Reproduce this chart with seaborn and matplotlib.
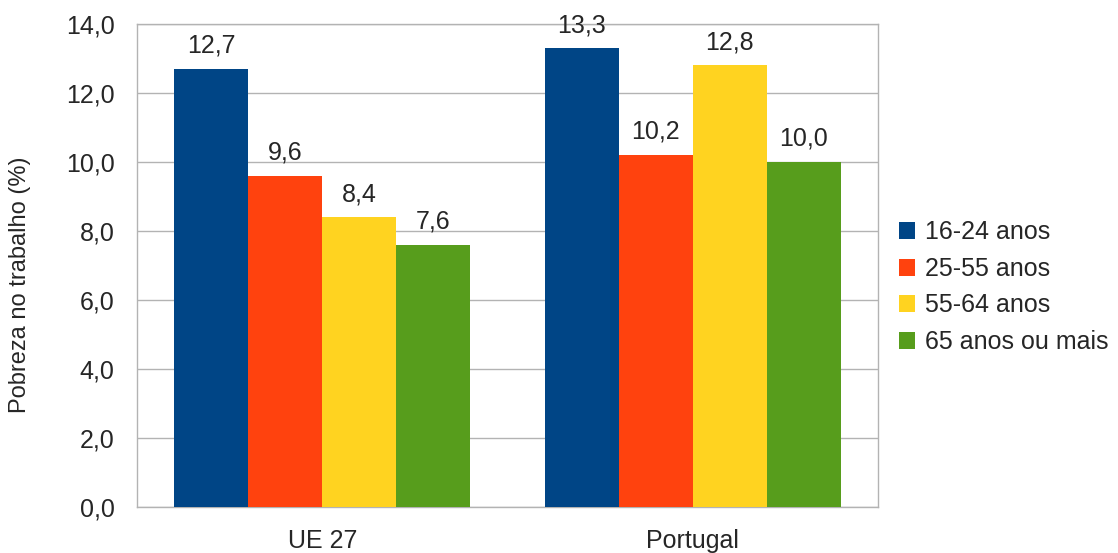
import pandas as pd
import matplotlib.pyplot as plt
import seaborn as sns

regioes = ["UE 27", "Portugal"]
grupos = ["16-24 anos", "25-55 anos", "55-64 anos", "65 anos ou mais"]
valores_ue = [12.7, 9.6, 8.4, 7.6]
valores_pt = [13.3, 10.2, 12.8, 10.0]
cores = ["#004586", "#ff420e", "#ffd320", "#579d1c"]

df = pd.DataFrame({
    "regiao": [r for r in regioes for _ in grupos],
    "grupo": grupos * 2,
    "valor": valores_ue + valores_pt,
})

sns.set_style("white")
plt.rcParams['font.family'] = ['Liberation Sans', 'DejaVu Sans']

fig = plt.figure(figsize=(11.18, 5.53), dpi=100)
ax = fig.add_axes([0.1225, 0.0832, 0.6628, 0.8734])

sns.barplot(data=df, x="regiao", y="valor", hue="grupo", order=regioes,
            hue_order=grupos, palette=cores, width=0.8, saturation=1,
            edgecolor="none", linewidth=0, ax=ax, zorder=3)

for cont in ax.containers:
    ax.bar_label(cont, labels=[f"{v:.1f}".replace(".", ",") for v in cont.datavalues],
                 padding=8, fontsize=18)

ax.set_ylim(0, 14)
ax.set_xlim(-0.5, 1.5)
ax.set_yticks([0, 2, 4, 6, 8, 10, 12, 14])
ax.set_yticklabels([f"{v:.1f}".replace(".", ",") for v in range(0, 15, 2)], fontsize=18)
ax.set_xticks([0, 1])
ax.set_xticklabels(regioes, fontsize=18)
ax.set_xticks([-0.5, 0.5, 1.5], minor=True)
ax.tick_params(axis="x", which="major", length=0, pad=16)
ax.tick_params(axis="x", which="minor", length=10, color="#b3b3b3", width=1)
ax.tick_params(axis="y", length=10, color="#b3b3b3", width=1, pad=6)
ax.yaxis.grid(True, color="#b3b3b3", linewidth=1, zorder=0)
ax.set_axisbelow(True)
for s in ax.spines.values():
    s.set_color("#b3b3b3")
    s.set_linewidth(1)

ax.set_xlabel("")
ax.set_ylabel("Pobreza no trabalho (%)", fontsize=17)
ax.yaxis.set_label_coords(-0.143, 0.46)

ax.legend(loc="center left", bbox_to_anchor=(1.015, 0.455), frameon=False,
          fontsize=18, handlelength=0.65, handleheight=0.65, handletextpad=0.4,
          labelspacing=0.5, borderaxespad=0)

fig.savefig("out.png", dpi=100)
